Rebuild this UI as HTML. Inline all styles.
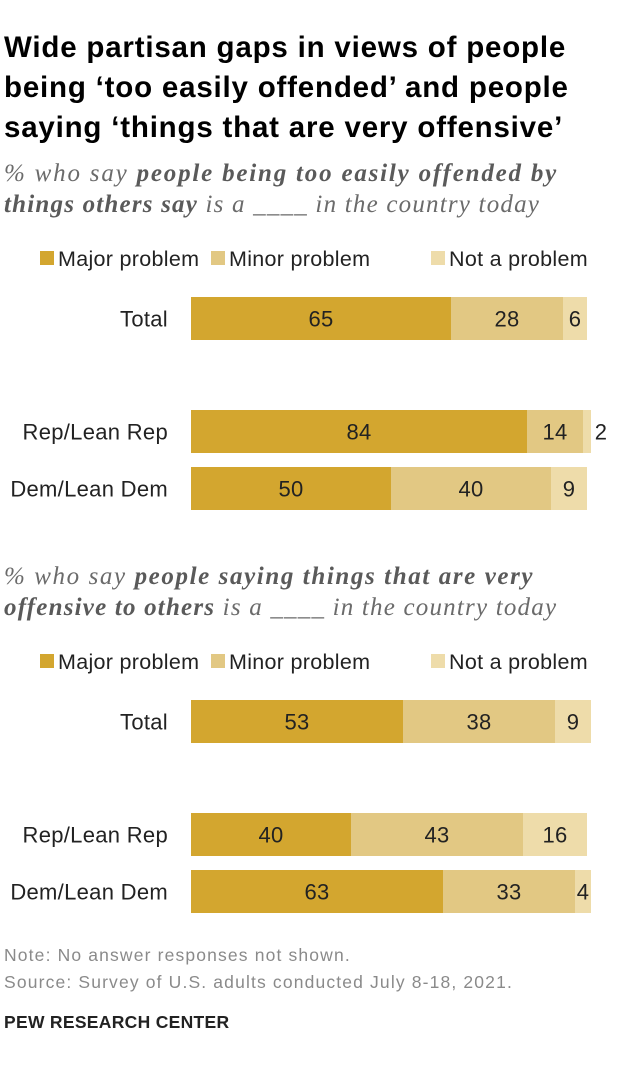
<!DOCTYPE html>
<html><head><meta charset="utf-8"><style>
body{margin:0;background:#fff;width:620px;height:1070px;position:relative;font-family:"Liberation Sans",sans-serif;color:#000;overflow:hidden}
.t{position:absolute;left:4px;top:28px;font-size:29.5px;font-weight:bold;line-height:40px;white-space:nowrap;letter-spacing:0.8px}
.sub{position:absolute;left:4px;font-family:"Liberation Serif",serif;font-style:italic;font-size:25px;line-height:31px;color:#6b6b6b;white-space:nowrap;letter-spacing:1.2px}
.sub b{color:#5a5a5a}
.foot{position:absolute;left:4px;font-size:17.5px;color:#8a8a8a;letter-spacing:1.15px}
svg text{font-family:"Liberation Sans",sans-serif;letter-spacing:0.3px}
</style></head><body>
<div class="t">Wide partisan gaps in views of people<br>being ‘too easily offended’ and people<br>saying ‘things that are very offensive’</div>
<div class="sub" style="top:158px"><span style="letter-spacing:1.8px">% who say <b>people being too easily offended by</b></span><br><b>things others say</b> is a ____ in the country today</div>
<div class="sub" style="top:561px"><span style="letter-spacing:1.6px">% who say <b>people saying things that are very</b></span><br><b>offensive to others</b> is a ____ in the country today</div>
<svg id="c" width="620" height="1070" style="position:absolute;left:0;top:0"></svg>
<div class="foot" style="top:945px">Note: No answer responses not shown.</div>
<div class="foot" style="top:972px">Source: Survey of U.S. adults conducted July 8-18, 2021.</div>
<div style="position:absolute;left:4px;top:1012px;font-size:17.5px;font-weight:bold;color:#222;letter-spacing:0.3px">PEW RESEARCH CENTER</div>
<script>
const categories=["Total","Rep/Lean Rep","Dem/Lean Dem"];
const series=["Major problem","Minor problem","Not a problem"];
const offendedMajor=[65,84,50];
const offendedMinor=[28,14,40];
const offendedNot=[6,2,9];
const offensiveMajor=[53,40,63];
const offensiveMinor=[38,43,33];
const offensiveNot=[9,16,4];
const colors=["#d3a62f","#e2c883","#eedcaa"];
const svg=document.getElementById('c');
const NS="http://www.w3.org/2000/svg";
const x0=191,k=4.0;
function x(v){return x0+v*k;}
function mk(t,a){const e=document.createElementNS(NS,t);for(const n in a)e.setAttribute(n,a[n]);svg.appendChild(e);return e;}
function legend(y,id){
  const xs=[40,211,431];
  series.forEach((s,i)=>{
    const r=mk('rect',{x:xs[i],y:y-7,width:14,height:14,fill:colors[i]});
    
    
    const t=mk('text',{x:xs[i]+18,y:y+8,'font-size':21.5,fill:'#222'});
    t.textContent=s;
    
    
  });
}
function panel(ys,data,id){
  categories.forEach((c,ci)=>{
    const y=ys[ci],h=43;
    const l=mk('text',{x:168,y:y+h/2+8,'font-size':22,'text-anchor':'end',fill:'#222'});
    l.textContent=c;
    
    
    let acc=0;
    data.forEach((arr,si)=>{
      const v=arr[ci];
      const r=mk('rect',{x:x(acc),y:y,width:x(acc+v)-x(acc),height:h,fill:colors[si]});
      
      
      const w=v*k;
      const tx=w<14?x(acc+v)+10:x(acc)+w/2;
      const t=mk('text',{x:tx,y:y+h/2+8,'font-size':22,'text-anchor':'middle',fill:'#222'});
      t.textContent=v;
      
      
      acc+=v;
    });
  });
}
legend(258,'a');
panel([297,410,467],[offendedMajor,offendedMinor,offendedNot],'a');
legend(661,'b');
panel([700,813,870],[offensiveMajor,offensiveMinor,offensiveNot],'b');
</script>
</body></html>
